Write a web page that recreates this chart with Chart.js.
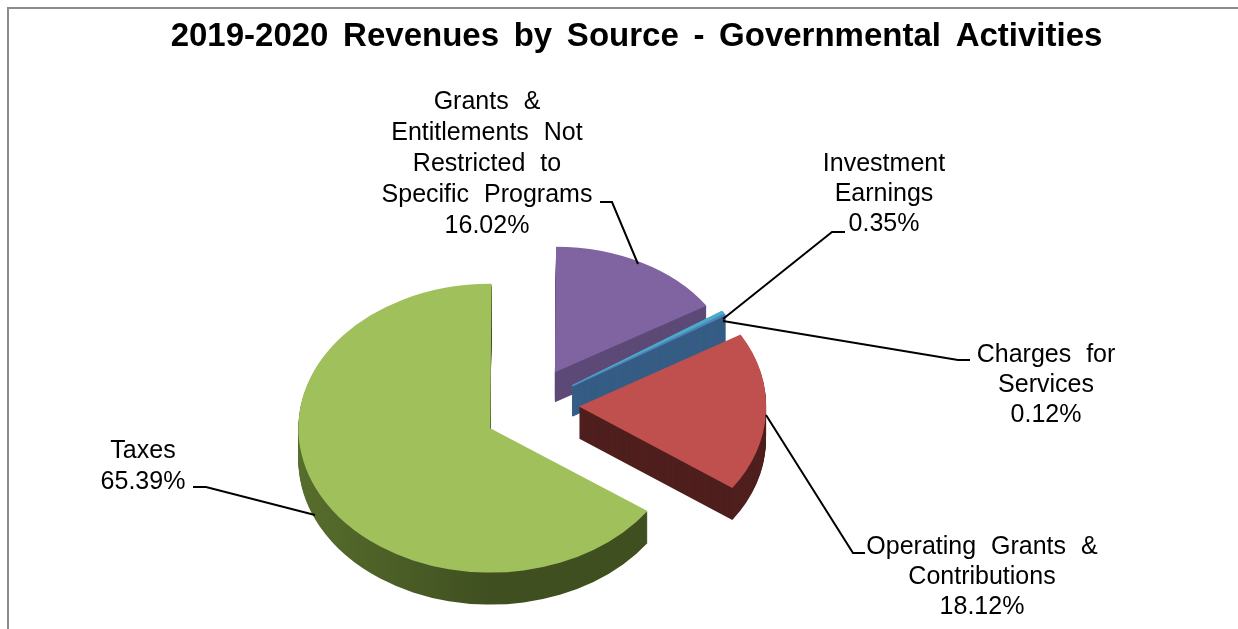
<!DOCTYPE html>
<html>
<head>
<meta charset="utf-8">
<title>2019-2020 Revenues by Source - Governmental Activities</title>
<script src="https://cdn.jsdelivr.net/npm/chart.js@4"></script>
<style>
  html, body { margin: 0; padding: 0; background: #fff; overflow: hidden; }
  #frame { position: absolute; left: 7px; top: 7px; width: 1240px; height: 640px;
           border-top: 2px solid #8c8c8c; border-left: 2px solid #8c8c8c; }
  #chartPie { position: absolute; left: 0; top: 0; }
</style>
</head>
<body>
<div id="frame"></div>
<canvas id="chartPie" width="1238" height="629"></canvas>
<script>
// Slices run clockwise from Charges for Services, as in the spreadsheet
const categories = [
  "Charges for Services",
  "Operating Grants & Contributions",
  "Taxes",
  "Grants & Entitlements Not Restricted to Specific Programs",
  "Investment Earnings",
];
const percentages = [0.12, 18.12, 65.39, 16.02, 0.35];
const labelLines = [
  ["Charges for", "Services"],
  ["Operating Grants &", "Contributions"],
  ["Taxes"],
  ["Grants &", "Entitlements Not", "Restricted to", "Specific Programs"],
  ["Investment", "Earnings"],
];
const sliceColors = ["#4f81bd", "#c0504d", "#a0c05c", "#8064a2", "#4bacc6"];
const wallColors = ["#365d85", "#4f1f1e", "#4f6328", "#5d4a77", "#365d85"];

// Look of the fake 3D pie
const PIE = { x: 532, y: 404, explode: 47, squash: 0.75 };
const sliceSquash = [0.74, 0.75, 0.76, 0.66, 0.74]; // far slices look flatter
const sliceWidth = [0.93, 0.985, 1.01, 0.94, 0.93];
const sliceNudgeY = [0, 1, 8, -1, 0];
const sliceDepth = [30, 32, 32, 30, 30];
const sliceEdge = [1.5, 0, 0, 0, 1.5]; // the hair-thin slices need a stroke to show
const drawOrder = [3, 4, 0, 1, 2]; // back to front
const FONT = '25px "Liberation Sans"';

// Where each label sits (center x, first baseline y) and its leader line
const labelPos = [
  { x: 1046, y: 362, lineH: 30, leader: [[970, 360], [958, 360], [723, 321]] },
  { x: 982, y: 554, lineH: 30, leader: [[865, 553], [853, 553], [766, 415]] },
  { x: 143, y: 458, lineH: 31, leader: [[193, 487], [206, 487], [315, 515]] },
  { x: 487, y: 109, lineH: 31, leader: [[600, 202], [612, 202], [638, 264]] },
  { x: 884, y: 171, lineH: 30, leader: [[845, 232], [832, 232], [723, 319]] },
];

function sliceOrigin(arc, i) {
  const mid = (arc.startAngle + arc.endAngle) / 2;
  return {
    x: PIE.x + Math.cos(mid) * PIE.explode,
    y: PIE.y + Math.sin(mid) * PIE.explode * PIE.squash + sliceNudgeY[i],
  };
}

// Draw one arc moved to its exploded spot, flattened to an ellipse
function drawArc(ctx, arc, i, shift, color) {
  const o = sliceOrigin(arc, i);
  ctx.save();
  ctx.translate(o.x, o.y + shift);
  ctx.scale(sliceWidth[i], sliceSquash[i]);
  ctx.translate(-arc.x, -arc.y);
  const opts = arc.options;
  arc.options = Object.assign(Object.create(opts), {
    backgroundColor: color,
    borderColor: color,
    borderWidth: sliceEdge[i],
  });
  arc.draw(ctx);
  arc.options = opts;
  ctx.restore();
}

const pie3d = {
  id: "pie3d",
  beforeDraw(chart) {
    chart.ctx.wordSpacing = "5.5px";
  },
  beforeDatasetsDraw(chart) {
    const ctx = chart.ctx;
    const arcs = chart.getDatasetMeta(0).data;
    drawOrder.forEach((i) => {
      let wall = wallColors[i];
      if (i === 2) {
        wall = ctx.createLinearGradient(300, 0, 640, 0);
        wall.addColorStop(0, "#82a04e");
        wall.addColorStop(0.45, "#566c2c");
        wall.addColorStop(1, "#3f4f20");
      }
      for (let d = sliceDepth[i]; d > 0; d--) drawArc(ctx, arcs[i], i, d, wall);
    });
    drawOrder.forEach((i) => drawArc(ctx, arcs[i], i, 0, sliceColors[i]));
    return false;
  },
  afterDraw(chart) {
    const ctx = chart.ctx;
    ctx.save();
    ctx.font = FONT;
    ctx.fillStyle = "#000";
    ctx.textAlign = "center";
    ctx.wordSpacing = "8px";
    labelPos.forEach((p, i) => {
      const lines = labelLines[i].concat(percentages[i].toFixed(2) + "%");
      lines.forEach((txt, n) => ctx.fillText(txt, p.x, p.y + n * p.lineH));
      ctx.beginPath();
      p.leader.forEach(([x, y], n) => (n ? ctx.lineTo(x, y) : ctx.moveTo(x, y)));
      ctx.strokeStyle = "#000";
      ctx.lineWidth = 2;
      ctx.stroke();
    });
    ctx.restore();
  },
};

new Chart(document.getElementById("chartPie").getContext("2d"), {
  type: "pie",
  data: {
    labels: categories,
    datasets: [{ data: percentages, backgroundColor: sliceColors, borderWidth: 0 }],
  },
  options: {
    responsive: false,
    animation: false,
    rotation: 59.3,
    radius: 190,
    layout: { padding: { left: 35 } },
    plugins: {
      legend: { display: false },
      tooltip: { enabled: false },
      title: {
        display: true,
        text: "2019-2020 Revenues by Source - Governmental Activities",
        color: "#000",
        font: { family: "Liberation Sans", size: 33, weight: "bold" },
        padding: { top: 17, bottom: 20 },
      },
    },
  },
  plugins: [pie3d],
});
</script>
</body>
</html>
